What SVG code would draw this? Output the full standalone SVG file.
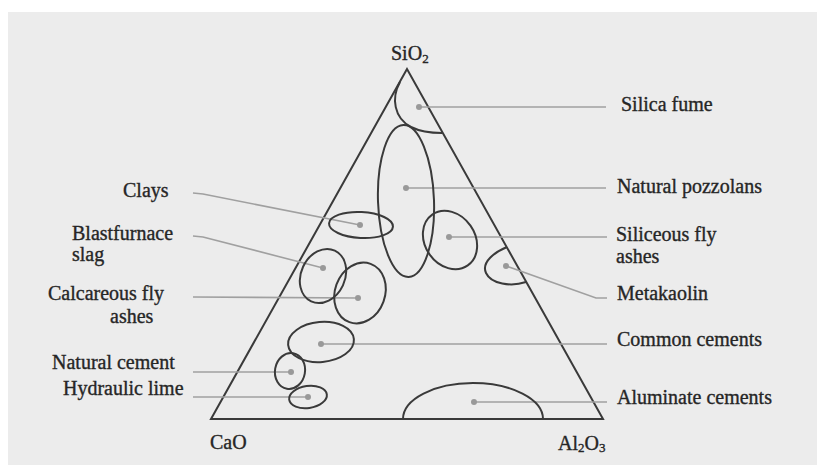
<svg xmlns="http://www.w3.org/2000/svg" width="817" height="465" viewBox="0 0 817 465">
<style>
.bg{fill:#ececec}
.tri{fill:none;stroke:#3a3a3a;stroke-width:2}
.reg{fill:none;stroke:#3a3a3a;stroke-width:2}
.dot{fill:#999}
.lead{fill:none;stroke:#a0a0a0;stroke-width:1.6}
text{font-family:"Liberation Serif","Times New Roman",serif;font-size:20px;fill:#262626;stroke:#262626;stroke-width:0.35}
.sub{font-size:13px}
</style>
<rect width="817" height="465" fill="#ffffff"/>
<rect class="bg" x="8" y="12" width="809" height="453"/>
<g id="triangle">
<polygon class="tri" points="407,69 211,419 603,419"/>
<text x="391" y="60">SiO<tspan class="sub" dy="3">2</tspan></text>
<text x="210" y="449">CaO</text>
<text x="558" y="450">Al<tspan class="sub" dy="2">2</tspan><tspan dy="-2">O</tspan><tspan class="sub" dy="2">3</tspan></text>
</g>
<g id="connectors">
<line class="lead" x1="419" y1="107" x2="606" y2="107"/>
<line class="lead" x1="406" y1="188" x2="606" y2="188"/>
<line class="lead" x1="449" y1="237" x2="607" y2="237"/>
<polyline class="lead" points="506,266 596,298 607,298"/>
<line class="lead" x1="321" y1="344" x2="607" y2="344"/>
<line class="lead" x1="474" y1="402" x2="607" y2="402"/>
<polyline class="lead" points="193,193 203,194 360,225"/>
<polyline class="lead" points="193,236 203,237 323,268"/>
<line class="lead" x1="193" y1="297" x2="358" y2="298"/>
<line class="lead" x1="193" y1="372" x2="291" y2="372"/>
<line class="lead" x1="193" y1="397" x2="308" y2="397"/>
</g>
<g id="silica-fume">
<path class="reg" d="M400,82 C391,98 394,118 411,127 C421,132 432,133 442,133"/>
<circle class="dot" cx="419" cy="107" r="3"/>
<text x="621" y="111">Silica fume</text>
</g>
<g id="natural-pozzolans">
<ellipse class="reg" cx="406" cy="201" rx="28" ry="76" transform="rotate(-2 406 201)"/>
<circle class="dot" cx="406" cy="188" r="3"/>
<text x="617" y="193">Natural pozzolans</text>
</g>
<g id="siliceous-fly-ashes">
<ellipse class="reg" cx="450" cy="240" rx="25" ry="31" transform="rotate(-35 450 240)"/>
<circle class="dot" cx="449" cy="237" r="3"/>
<text x="616" y="241">Siliceous fly</text>
<text x="616" y="263">ashes</text>
</g>
<g id="metakaolin">
<path class="reg" d="M507,247 C495,252 481,262 486,273 C491,284 511,287 526,282"/>
<circle class="dot" cx="506" cy="266" r="3"/>
<text x="617" y="300">Metakaolin</text>
</g>
<g id="clays">
<ellipse class="reg" cx="361" cy="225" rx="32" ry="13" transform="rotate(3 361 225)"/>
<circle class="dot" cx="360" cy="225" r="3"/>
<text x="123" y="197">Clays</text>
</g>
<g id="blastfurnace-slag">
<ellipse class="reg" cx="323" cy="276" rx="22" ry="28" transform="rotate(25 323 276)"/>
<circle class="dot" cx="323" cy="268" r="3"/>
<text x="72" y="240">Blastfurnace</text>
<text x="72" y="261">slag</text>
</g>
<g id="calcareous-fly-ashes">
<ellipse class="reg" cx="360" cy="293" rx="25" ry="31" transform="rotate(20 360 293)"/>
<circle class="dot" cx="358" cy="298" r="3"/>
<text x="48" y="300">Calcareous fly</text>
<text x="110" y="323">ashes</text>
</g>
<g id="common-cements">
<ellipse class="reg" cx="321" cy="342" rx="33" ry="20" transform="rotate(-5 321 342)"/>
<circle class="dot" cx="321" cy="344" r="3"/>
<text x="617" y="346">Common cements</text>
</g>
<g id="natural-cement">
<ellipse class="reg" cx="290" cy="371" rx="15" ry="18" transform="rotate(10 290 371)"/>
<circle class="dot" cx="291" cy="372" r="3"/>
<text x="52" y="369">Natural cement</text>
</g>
<g id="hydraulic-lime">
<ellipse class="reg" cx="308" cy="397" rx="19" ry="11" transform="rotate(-8 308 397)"/>
<circle class="dot" cx="308" cy="397" r="3"/>
<text x="63" y="395">Hydraulic lime</text>
</g>
<g id="aluminate-cements">
<path class="reg" d="M403,419 A70,36 0 0 1 543,419"/>
<circle class="dot" cx="474" cy="402" r="3"/>
<text x="617" y="404">Aluminate cements</text>
</g>
</svg>
